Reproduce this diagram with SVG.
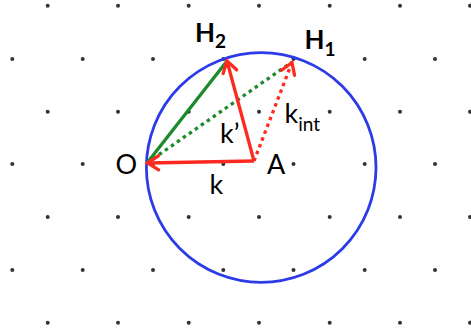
<svg xmlns="http://www.w3.org/2000/svg" width="471" height="333" viewBox="0 0 471 333">
<defs>
<style>
.dot{fill:#333}
.lbl{font-family:Lato,"Open Sans","Liberation Sans",sans-serif;font-size:27px;fill:#000}
.sub{font-size:19px}
.bold{font-weight:bold;font-size:26px}
.red{stroke:#ff2a1f;stroke-width:3.3;fill:none}
.green{stroke:#1b8a2a;stroke-width:3.3;fill:none}
.dotted{stroke-dasharray:3.5 3.8}
</style>
<marker id="ah" markerUnits="userSpaceOnUse" markerWidth="20" markerHeight="20" viewBox="-14 -10 20 20" refX="0" refY="0" orient="auto">
<path d="M-11,-7 L0,0 L-11,7" fill="none" stroke="#ff2a1f" stroke-width="3.3" stroke-linecap="round" stroke-linejoin="miter"/>
</marker>
</defs>
<rect width="471" height="333" fill="#fff"/>
<g id="lattice">
<g class="dot">
<circle cx="47.7" cy="5.7" r="2"/><circle cx="118" cy="5.7" r="2"/><circle cx="188.7" cy="5.7" r="2"/><circle cx="259" cy="5.7" r="2"/><circle cx="329.7" cy="5.7" r="2"/><circle cx="400" cy="5.7" r="2"/><circle cx="470" cy="5.7" r="2"/>
<circle cx="12.3" cy="59" r="2"/><circle cx="82.7" cy="59" r="2"/><circle cx="153" cy="59" r="2"/><circle cx="223.3" cy="59" r="2"/><circle cx="293.5" cy="59" r="2"/><circle cx="364.7" cy="59" r="2"/><circle cx="435" cy="59" r="2"/>
<circle cx="47.7" cy="111.7" r="2"/><circle cx="118" cy="111.7" r="2"/><circle cx="188.7" cy="111.7" r="2"/><circle cx="259" cy="111.7" r="2"/><circle cx="329.7" cy="111.7" r="2"/><circle cx="400" cy="111.7" r="2"/><circle cx="470" cy="111.7" r="2"/>
<circle cx="12.3" cy="164" r="2"/><circle cx="82.7" cy="164" r="2"/><circle cx="153" cy="164" r="2"/><circle cx="223.3" cy="164" r="2"/><circle cx="293.5" cy="164" r="2"/><circle cx="364.7" cy="164" r="2"/><circle cx="435" cy="164" r="2"/>
<circle cx="47.7" cy="217" r="2"/><circle cx="118" cy="217" r="2"/><circle cx="188.7" cy="217" r="2"/><circle cx="259" cy="217" r="2"/><circle cx="329.7" cy="217" r="2"/><circle cx="400" cy="217" r="2"/><circle cx="470" cy="217" r="2"/>
<circle cx="12.3" cy="270" r="2"/><circle cx="82.7" cy="270" r="2"/><circle cx="153" cy="270" r="2"/><circle cx="223.3" cy="270" r="2"/><circle cx="293.5" cy="270" r="2"/><circle cx="364.7" cy="270" r="2"/><circle cx="435" cy="270" r="2"/>
<circle cx="47.7" cy="322.7" r="2"/><circle cx="118" cy="322.7" r="2"/><circle cx="188.7" cy="322.7" r="2"/><circle cx="259" cy="322.7" r="2"/><circle cx="329.7" cy="322.7" r="2"/><circle cx="400" cy="322.7" r="2"/><circle cx="470" cy="322.7" r="2"/>
</g>
</g>
<g id="ewald-sphere">
<circle cx="261.2" cy="167.5" r="114.8" fill="none" stroke="#2b3be8" stroke-width="2.8"/>
</g>
<g id="connectors">
<line class="green" x1="147" y1="163" x2="227" y2="61"/>
<line class="green dotted" x1="147" y1="163" x2="292" y2="62"/>
<line class="red dotted" x1="254" y1="161" x2="292" y2="62.5"/>
<line class="red" x1="254" y1="161" x2="147.5" y2="163" marker-end="url(#ah)"/>
<line class="red" x1="254" y1="161" x2="227" y2="61" marker-end="url(#ah)"/>
<line x1="286" y1="78" x2="292" y2="62.5" stroke="none" marker-end="url(#ah)"/>
</g>
<g id="node-O"><text class="lbl" x="115.5" y="174.3">O</text></g>
<g id="node-A"><text class="lbl" x="267" y="174.3">A</text></g>
<g id="node-H2"><text class="lbl bold" x="195" y="42">H<tspan class="sub" dy="6.3">2</tspan></text></g>
<g id="node-H1"><text class="lbl bold" x="304.5" y="48.5">H<tspan class="sub" dy="7.5">1</tspan></text></g>
<g id="label-k"><text class="lbl" x="209.5" y="194">k</text></g>
<g id="label-kprime"><text class="lbl" x="220" y="143.3">k’</text></g>
<g id="label-kint"><text class="lbl" x="284.5" y="122.7">k<tspan class="sub" dy="8">int</tspan></text></g>
</svg>
